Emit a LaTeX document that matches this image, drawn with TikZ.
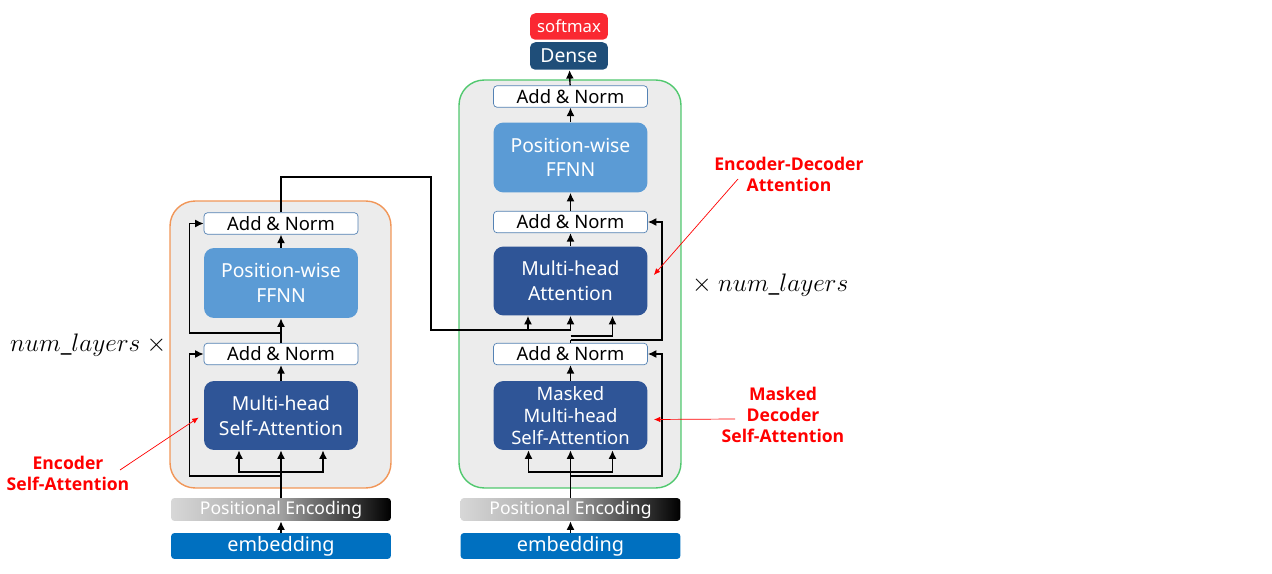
\documentclass[tikz,border=0pt]{standalone}
\usepackage{fontspec}
\setmainfont{Noto Sans}
\newfontfamily\notefont{Open Sans}
\usepackage{xcolor}
\usepackage{tikz}
\usetikzlibrary{arrows.meta, calc}

\definecolor{blockgray}{RGB}{236,236,236}
\definecolor{encborder}{RGB}{241,150,88}
\definecolor{decborder}{RGB}{80,200,110}
\definecolor{addborder}{RGB}{84,130,180}
\definecolor{ffnnblue}{RGB}{91,155,213}
\definecolor{mhablue}{RGB}{47,85,151}
\definecolor{densenavy}{RGB}{31,78,121}
\definecolor{softred}{RGB}{250,40,50}
\definecolor{embblue}{RGB}{0,112,192}
\definecolor{pelight}{RGB}{215,215,215}
\definecolor{pemid}{RGB}{160,160,160}

\begin{document}
\begin{tikzpicture}[
    x=0.02cm, y=-0.02cm,
    block/.style={rectangle, draw, thick, fill=blockgray, rounded corners=0.5cm, inner sep=0pt},
    addbox/.style={rectangle, draw=addborder, fill=white, rounded corners=2pt, minimum width=3.08cm, minimum height=0.43cm, inner sep=0pt, font=\fontsize{10.5}{12}\selectfont},
    ffnn/.style={rectangle, fill=ffnnblue, text=white, rounded corners=0.2cm, minimum width=3.08cm, minimum height=1.4cm, inner sep=0pt, align=center, font=\fontsize{11}{14}\selectfont},
    mha/.style={ffnn, fill=mhablue, minimum height=1.38cm},
    pebar/.style={rectangle, rounded corners=2pt, left color=pelight, right color=black, middle color=pemid, text=white, minimum width=4.4cm, minimum height=0.46cm, inner sep=0pt, font=\fontsize{10}{12}\selectfont},
    embbar/.style={rectangle, fill=embblue, text=white, rounded corners=2pt, minimum width=4.4cm, minimum height=0.52cm, inner sep=0pt, font=\fontsize{11.3}{14}\selectfont},
    outbox/.style={rectangle, text=white, rounded corners=3pt, minimum width=1.56cm, minimum height=0.55cm, inner sep=0pt},
    note/.style={text=red, align=center, font=\notefont\bfseries\fontsize{10}{12}\selectfont},
    arrow/.style={-{Latex[length=1.7mm, width=1.6mm]}, thick},
    redarrow/.style={-{Latex[length=1.3mm, width=1.1mm]}, red}
]
\useasboundingbox (0,0) rectangle (1272,574);

% Encoder
\node[block, draw=encborder, minimum width=4.42cm, minimum height=5.74cm] (encblock) at (280.5,344.5) {};
\node[addbox] (encaddtop) at (281,223.5) {Add \& Norm};
\node[ffnn] (encffnn) at (281,283) {Position-wise\\FFNN};
\node[addbox] (encaddlow) at (281,354) {Add \& Norm};
\node[mha] (encmha) at (281,415.5) {Multi-head\\Self-Attention};
\node[pebar] (encpe) at (281,509.5) {Positional Encoding};
\node[embbar] (encemb) at (281,546) {embedding};

% Decoder
\node[block, draw=decborder, minimum width=4.44cm, minimum height=8.16cm] (decblock) at (570,284) {};
\node[addbox] (decaddtop) at (570.5,96.5) {Add \& Norm};
\node[ffnn] (decffnn) at (570.5,157.5) {Position-wise\\FFNN};
\node[addbox] (decaddmid) at (570.5,222) {Add \& Norm};
\node[mha] (decmha) at (570.5,281) {Multi-head\\Attention};
\node[addbox] (decaddlow) at (570.5,354) {Add \& Norm};
\node[mha, font=\fontsize{10.5}{12.5}\selectfont] (decmmha) at (570.5,415.5) {Masked\\Multi-head\\Self-Attention};
\node[pebar] (decpe) at (570.5,509.5) {Positional Encoding};
\node[embbar] (decemb) at (570.5,546) {embedding};

% Output
\node[outbox, fill=densenavy, font=\fontsize{11}{13}\selectfont] (dense) at (569,56) {Dense};
\node[outbox, fill=softred, font=\fontsize{9.5}{11}\selectfont, minimum height=0.53cm] (softmax) at (569,26.5) {softmax};

% Layer counts
\node[anchor=west, font=\fontsize{13.7}{16}\selectfont] (enccount) at (4,345) {$num\_layers\ \times$};
\node[anchor=west, font=\fontsize{13.7}{16}\selectfont] (deccount) at (686,285) {$\times\ num\_layers$};

% Encoder arrows
\coordinate (encsplit) at (281,472);
\coordinate (encres1) at (281,476);
\coordinate (encres2) at (281,333);
\draw[arrow] (encemb) -- (encpe);
\draw[arrow] (encpe.north) -- (encmha.south);
\draw[arrow] (encsplit) -| ($(encmha.south)+(-42,0)$);
\draw[arrow] (encsplit) -| ($(encmha.south)+(42,0)$);
\draw[arrow] (encres1) -| ($(encaddlow.west)+(-14,0)$) -- (encaddlow.west);
\draw[arrow] (encmha) -- (encaddlow);
\draw[arrow] (encaddlow) -- (encffnn);
\draw[arrow] (encres2) -| ($(encaddtop.west)+(-14,0)$) -- (encaddtop.west);
\draw[arrow] (encffnn) -- (encaddtop);

% Encoder to decoder
\coordinate (kvturn) at (431,177);
\coordinate (kvsplit) at (528,330);
\draw[arrow] (encaddtop.north) |- (kvturn) -- (431,330) -| (decmha.south);
\draw[arrow] (kvsplit) -- (kvsplit |- decmha.south);

% Decoder arrows
\coordinate (decsplit) at (570.5,472);
\coordinate (decres1) at (570.5,476);
\coordinate (qsplit) at (570.5,336);
\coordinate (decres2) at (570.5,340);
\draw[arrow] (decemb) -- (decpe);
\draw[arrow] (decpe.north) -- (decmmha.south);
\draw[arrow] (decsplit) -| ($(decmmha.south)+(-42,0)$);
\draw[arrow] (decsplit) -| ($(decmmha.south)+(42,0)$);
\draw[arrow] (decres1) -| ($(decaddlow.east)+(14,0)$) -- (decaddlow.east);
\draw[arrow] (decmmha) -- (decaddlow);
\draw[thick] (decaddlow.north) -- (decres2);
\draw[arrow] (qsplit) -| ($(decmha.south)+(42,0)$);
\draw[arrow] (decres2) -| ($(decaddmid.east)+(14,0)$) -- (decaddmid.east);
\draw[arrow] (decmha) -- (decaddmid);
\draw[arrow] (decaddmid) -- (decffnn);
\draw[arrow] (decffnn) -- (decaddtop);
\draw[arrow] (decaddtop) -- (dense);

% Notes
\node[note] (encnote) at (68,473) {Encoder\\Self-Attention};
\node[note] (crossnote) at (789,174) {Encoder-Decoder\\Attention};
\node[note] (masknote) at (783,415) {Masked\\Decoder\\Self-Attention};
\draw[redarrow] (120,470) -- ($(encmha.west)+(-5,2)$);
\draw[redarrow] (738,179) -- ($(decmha.east)+(6,-6)$);
\draw[redarrow] (735,419) -- ($(decmmha.east)+(6,4)$);

\end{tikzpicture}
\end{document}
